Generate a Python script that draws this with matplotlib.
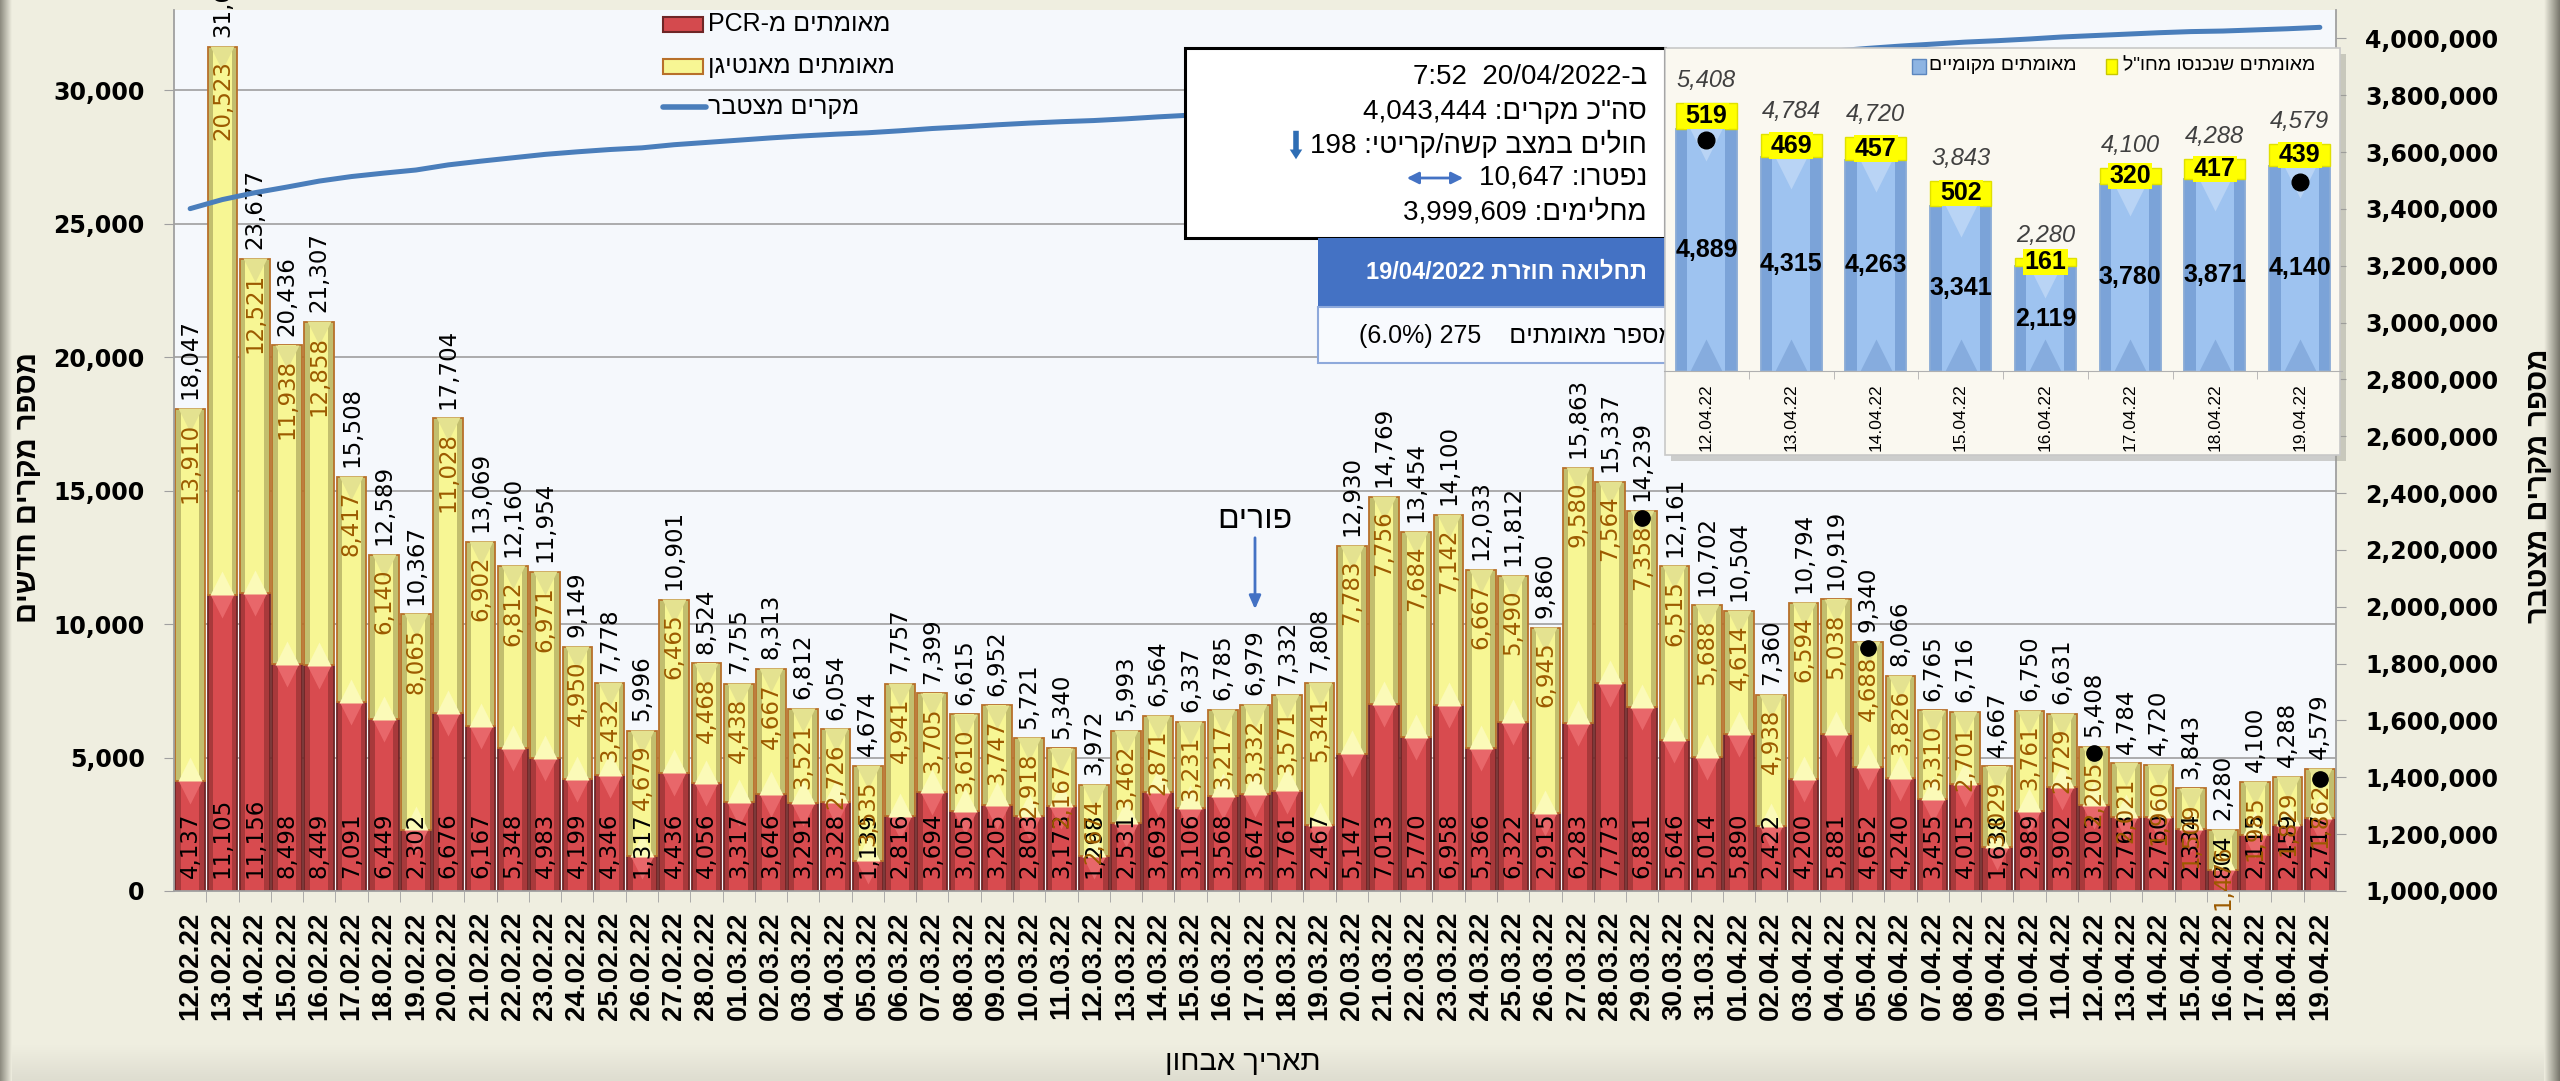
import numpy as np
import matplotlib
matplotlib.use('Agg')
import matplotlib.pyplot as plt
from matplotlib.patches import Rectangle
from matplotlib import font_manager
from matplotlib.transforms import offset_copy

# ---- data ----
dates = ['12.02.22', '13.02.22', '14.02.22', '15.02.22', '16.02.22', '17.02.22', '18.02.22',
         '19.02.22', '20.02.22', '21.02.22', '22.02.22', '23.02.22', '24.02.22', '25.02.22',
         '26.02.22', '27.02.22', '28.02.22',
         '01.03.22', '02.03.22', '03.03.22', '04.03.22', '05.03.22', '06.03.22', '07.03.22',
         '08.03.22', '09.03.22', '10.03.22', '11.03.22', '12.03.22', '13.03.22', '14.03.22',
         '15.03.22', '16.03.22', '17.03.22', '18.03.22', '19.03.22', '20.03.22', '21.03.22',
         '22.03.22', '23.03.22', '24.03.22', '25.03.22', '26.03.22', '27.03.22', '28.03.22',
         '29.03.22', '30.03.22', '31.03.22',
         '01.04.22', '02.04.22', '03.04.22', '04.04.22', '05.04.22', '06.04.22', '07.04.22',
         '08.04.22', '09.04.22', '10.04.22', '11.04.22', '12.04.22', '13.04.22', '14.04.22',
         '15.04.22', '16.04.22', '17.04.22', '18.04.22', '19.04.22']

pcr = [4137, 11105, 11156, 8498, 8449, 7091, 6449, 2302, 6676, 6167, 5348, 4983, 4199, 4346, 1317, 4436, 4056,
       3317, 3646, 3291, 3328, 1139, 2816, 3694, 3005, 3205, 2803, 3173, 1298, 2531, 3693, 3106, 3568, 3647,
       3761, 2467, 5147, 7013, 5770, 6958, 5366, 6322, 2915, 6283, 7773, 6881, 5646, 5014,
       5890, 2422, 4200, 5881, 4652, 4240, 3455, 4015, 1638, 2989, 3902, 3203, 2763, 2760, 2334, 804, 2115, 2459, 2717]

antigen = [13910, 20523, 12521, 11938, 12858, 8417, 6140, 8065, 11028, 6902, 6812, 6971, 4950, 3432, 4679, 6465, 4468,
           4438, 4667, 3521, 2726, 3535, 4941, 3705, 3610, 3747, 2918, 2167, 2674, 3462, 2871, 3231, 3217, 3332,
           3571, 5341, 7783, 7756, 7684, 7142, 6667, 5490, 6945, 9580, 7564, 7358, 6515, 5688,
           4614, 4938, 6594, 5038, 4688, 3826, 3310, 2701, 3029, 3761, 2729, 2205, 2021, 1960, 1509, 1476, 1985, 1829, 1862]

totals = [18047, 31628, 23677, 20436, 21307, 15508, 12589, 10367, 17704, 13069, 12160, 11954, 9149, 7778, 5996, 10901, 8524,
          7755, 8313, 6812, 6054, 4674, 7757, 7399, 6615, 6952, 5721, 5340, 3972, 5993, 6564, 6337, 6785, 6979,
          7332, 7808, 12930, 14769, 13454, 14100, 12033, 11812, 9860, 15863, 15337, 14239, 12161, 10702,
          10504, 7360, 10794, 10919, 9340, 8066, 6765, 6716, 4667, 6750, 6631, 5408, 4784, 4720, 3843, 2280, 4100, 4288, 4579]

# cumulative cases, thousands
cumulative = [3401, 3433, 3457, 3477, 3498, 3514, 3526, 3537, 3555, 3568, 3580, 3592, 3601, 3609, 3615, 3626, 3634,
              3642, 3650, 3657, 3663, 3668, 3675, 3683, 3689, 3696, 3702, 3707, 3711, 3717, 3724, 3730, 3737, 3744,
              3751, 3759, 3772, 3787, 3800, 3814, 3827, 3838, 3848, 3864, 3879, 3894, 3906, 3916,
              3927, 3934, 3945, 3956, 3965, 3973, 3980, 3987, 3992, 3998, 4005, 4010, 4015, 4020, 4024, 4026, 4030, 4034, 4039]

dot_dates = ['29.03.22', '05.04.22', '12.04.22', '19.04.22']
dot_vals = [13970, 9100, 5170, 4195]
purim_date = '17.03.22'

inset_dates = ['12.04.22', '13.04.22', '14.04.22', '15.04.22', '16.04.22', '17.04.22', '18.04.22', '19.04.22']
inset_local = [4889, 4315, 4263, 3341, 2119, 3780, 3871, 4140]
inset_abroad = [519, 469, 457, 502, 161, 320, 417, 439]
inset_totals = [5408, 4784, 4720, 3843, 2280, 4100, 4288, 4579]
inset_dot_dates = ['12.04.22', '19.04.22']
inset_dot_vals = [4660, 3820]

# ---- fonts ----
names = {f.name for f in font_manager.fontManager.ttflist}
HEB = ['Liberation Sans', 'DejaVu Sans']
NARROW = ['Liberation Sans Narrow', 'DejaVu Sans'] if 'Liberation Sans Narrow' in names else HEB
NUM = 'DejaVu Sans'

W, H = 2560, 1081
BEIGE = '#EFEEE0'
fig = plt.figure(figsize=(W / 100, H / 100), dpi=100, facecolor=BEIGE)


def grad(ax, x0, x1, y0, y1, c0, c1, vertical=False):
    t = np.linspace(0, 1, 40)[:, None]
    cols = (1 - t) * np.array(c0) / 255 + t * np.array(c1) / 255
    img = cols[:, None, :] if vertical else cols[None, :, :]
    ax.imshow(img, extent=[x0, x1, y1, y0], aspect='auto', interpolation='bilinear', origin='upper')


# background shadows of the outer frame
bg = fig.add_axes([0, 0, 1, 1], zorder=-5)
bg.set_xlim(0, W)
bg.set_ylim(H, 0)
bg.axis('off')
grad(bg, 0, W, 1045, H, (239, 238, 224), (222, 221, 208), vertical=True)
grad(bg, 0, 12, 0, H, (140, 138, 126), (239, 238, 224))
grad(bg, 2544, W, 0, H, (239, 238, 224), (120, 118, 108))

# ---- main axes ----
ax = fig.add_axes([174 / W, 1 - 891 / H, 2162 / W, 881 / H])
ax.set_facecolor('#F5F8FC')
x = np.arange(len(dates))
bw = 0.92


def bevel_bar(a, xs, h, bottom, side, mid, edge, width):
    a.bar(xs, h, width, bottom=bottom, color=side, edgecolor=edge, linewidth=1.3, zorder=2)
    a.bar(xs, h, width * 0.62, bottom=bottom, color=mid, linewidth=0, zorder=2.1)


bevel_bar(ax, x, pcr, 0, '#A8393B', '#D84B4F', '#6E2626', bw)
bevel_bar(ax, x, antigen, pcr, '#C2BE6E', '#F7F694', '#B8702A', bw)

# bevel triangles at the segment joints
down = offset_copy(ax.transData, fig=fig, y=-8, units='points')
up = offset_copy(ax.transData, fig=fig, y=8, units='points')
ax.plot(x, pcr, 'v', ms=17, color='#E8676A', mec='none', transform=down, zorder=2.2)
ax.plot(x, pcr, '^', ms=17, color='#FBFAB8', mec='none', transform=up, zorder=2.2)
ax.plot(x, totals, 'v', ms=17, color='#E4E290', mec='none', transform=down, zorder=2.2)

for i in range(len(dates)):
    ax.annotate(f'{pcr[i]:,}', (x[i], 0), xytext=(0, 9), textcoords='offset points',
                rotation=90, ha='center', va='bottom', fontsize=16.5, family=NUM, color='black', zorder=4)
    ax.annotate(f'{antigen[i]:,}', (x[i], totals[i]), xytext=(0, -10), textcoords='offset points',
                rotation=90, ha='center', va='top', fontsize=16.5, family=NUM, color='#9C5A00', zorder=4)
    ax.annotate(f'{totals[i]:,}', (x[i], totals[i]), xytext=(0, 7), textcoords='offset points',
                rotation=90, ha='center', va='bottom', fontsize=16.5, family=NUM, color='black', zorder=4)

ax.plot([dates.index(d) for d in dot_dates], dot_vals, 'o', color='black', ms=11, zorder=5)

ax.set_xlim(-0.5, len(dates) - 0.5)
ax.set_ylim(0, 33000)
ax.set_yticks(range(0, 30001, 5000))
ax.set_yticklabels([f'{v:,}' for v in range(0, 30001, 5000)], family=NUM, fontweight='bold', fontsize=17)
ax.yaxis.grid(True, color='#A6A6A6', lw=1.3)
ax.set_axisbelow(True)
ax.set_xticks(x)
ax.set_xticklabels(dates, rotation=90, fontsize=20, fontweight='bold', family=HEB)
ax.set_xticks(x[:-1] + 0.5, minor=True)
ax.tick_params(axis='x', which='major', length=0, pad=15)
ax.tick_params(axis='x', which='minor', length=8, color='#A0A0A0')
ax.tick_params(axis='y', length=7, color='#A0A0A0', pad=14)
for s in ['top', 'right']:
    ax.spines[s].set_visible(False)
for s in ['left', 'bottom']:
    ax.spines[s].set_color('#A0A0A0')
    ax.spines[s].set_linewidth(1.3)

# cumulative line on right axis
ax2 = ax.twinx()
ax2.plot(x, np.array(cumulative) * 1000, color='#4A7EBB', lw=3.6, solid_capstyle='round')
ax2.set_ylim(1_000_000, 4_100_000)
rt = list(range(1_000_000, 4_000_001, 200_000))
ax2.set_yticks(rt)
ax2.set_yticklabels([f'{v:,}' for v in rt], family=NUM, fontweight='bold', fontsize=17)
ax2.tick_params(axis='y', length=7, color='#A0A0A0', pad=14)
for s in ['top', 'left', 'bottom']:
    ax2.spines[s].set_visible(False)
ax2.spines['right'].set_color('#A0A0A0')
ax2.spines['right'].set_linewidth(1.3)

# axis titles (hebrew in visual order)
fig.text(28 / W, 1 - 488 / H, 'םישדח םירקמ רפסמ', rotation=90, ha='center', va='center',
         fontsize=21, fontweight='bold', family=HEB)
fig.text(2539 / W, 1 - 486 / H, 'רבטצמ םירקמ רפסמ', rotation=90, ha='center', va='center',
         fontsize=21, fontweight='bold', family=HEB)
fig.text(1243 / W, 1 - 1062 / H, 'ןוחבא ךיראת', ha='center', va='center', fontsize=21, family=HEB)

# purim marker
pi = dates.index(purim_date)
ax.annotate('', xy=(pi, H - 612), xycoords=('data', 'figure pixels'),
            xytext=(pi, H - 535), textcoords=('data', 'figure pixels'),
            arrowprops=dict(arrowstyle='-|>,head_width=0.35,head_length=0.8', color='#4472C4', lw=2), zorder=6)
ax.annotate('םירופ', xy=(pi, H - 520), xycoords=('data', 'figure pixels'), ha='center', va='center',
            fontsize=23, family=HEB, annotation_clip=False)

# ---- overlay: legend, info boxes ----
ov = fig.add_axes([0, 0, 1, 1])
ov.set_xlim(0, W)
ov.set_ylim(H, 0)
ov.axis('off')

ov.add_patch(Rectangle((663, 17), 40, 15, fc='#D44A4E', ec='#6E2626', lw=1.5))
ov.add_patch(Rectangle((663, 59), 40, 15, fc='#F7F694', ec='#B8702A', lw=1.5))
ov.plot([663, 706], [107, 107], color='#4A7EBB', lw=4, solid_capstyle='round')
ov.text(708, 24, 'PCR-מ םיתמואמ', ha='left', va='center', fontsize=18, family=HEB)
ov.text(708, 66, 'ןגיטנאמ םיתמואמ', ha='left', va='center', fontsize=18, family=HEB)
ov.text(708, 107, 'רבטצמ םירקמ', ha='left', va='center', fontsize=18, family=HEB)

# info box
ov.add_patch(Rectangle((1185, 48), 480, 190, fc='white', ec='black', lw=2.2, zorder=3))
info = ['7:52  20/04/2022-ב', '4,043,444 :םירקמ כ"הס', '198 :יטירק/השק בצמב םילוח',
        '10,647 :ורטפנ', '3,999,609 :םימילחמ']
for yy, t in zip([77, 112, 145, 178, 212], info):
    ov.text(1647, yy, t, ha='right', va='center', fontsize=20, family=HEB, zorder=4)
ov.annotate('', xy=(1296, 162), xytext=(1296, 128),
            arrowprops=dict(arrowstyle='simple,head_width=0.9,head_length=0.7,tail_width=0.4',
                            color='#2E6DB4', lw=0), zorder=4)
ov.annotate('', xy=(1404, 178), xytext=(1466, 178),
            arrowprops=dict(arrowstyle='<|-|>,head_width=0.35,head_length=0.7', color='#4472C4', lw=2), zorder=4)

# re-infection box
ov.add_patch(Rectangle((1318, 238), 347, 69, fc='#4472C4', ec='none', zorder=3))
ov.text(1647, 272, '19/04/2022 תרזוח האולחת', ha='right', va='center', color='white',
        fontsize=17, fontweight='bold', family=HEB, zorder=4)
ov.add_patch(Rectangle((1318, 307), 370, 56, fc='#F8FAFE', ec='#8EA9DB', lw=1.5, zorder=3))
ov.text(1676, 336, '(6.0%) 275    םיתמואמ רפסמ', ha='right', va='center', fontsize=18, family=HEB, zorder=4)

# inset frame
ov.add_patch(Rectangle((1671, 54), 675, 407, fc='#9A9A92', ec='none', alpha=0.45, zorder=6))
ov.add_patch(Rectangle((1665, 48), 675, 407, fc='#FAF8F0', ec='#C8C8C8', lw=1.2, zorder=6))
ov.add_patch(Rectangle((1912, 59), 14, 15, fc='#8DB4E2', ec='#5B86BE', lw=1, zorder=7))
ov.text(1929, 66, 'םיימוקמ םיתמואמ', ha='left', va='center', fontsize=14, family=NARROW, zorder=7)
ov.add_patch(Rectangle((2106, 59), 11, 15, fc='#FFFF00', ec='#C8C800', lw=1, zorder=7))
ov.text(2123, 66, 'ל"וחמ וסנכנש םיתמואמ', ha='left', va='center', fontsize=14, family=NARROW, zorder=7)

# ---- inset chart ----
ins = fig.add_axes([1664 / W, 1 - 371 / H, 678 / W, 316 / H])
ins.patch.set_visible(False)
xi = np.arange(len(inset_dates))
bevel_bar(ins, xi, inset_local, 0, '#7BA3D8', '#9EC3F0', '#8AABD6', 0.72)
ins_down = offset_copy(ins.transData, fig=fig, y=-10, units='points')
ins.plot(xi, inset_local, 'v', ms=26, color='#B9D4F5', mec='none', transform=ins_down, zorder=2.2)
ins.plot(xi, np.zeros(len(xi)), '^', ms=26, color='#86ACDE', mec='none',
         transform=offset_copy(ins.transData, fig=fig, y=10, units='points'), zorder=2.2)
ins.bar(xi, inset_abroad, 0.72, bottom=inset_local, color='#FFFF00', edgecolor='#E0E000', lw=1, zorder=2)
for i in range(len(inset_dates)):
    ins.text(xi[i], inset_local[i] / 2, f'{inset_local[i]:,}', ha='center', va='center',
             fontsize=18, fontweight='bold', family=NARROW, zorder=4)
    ins.text(xi[i], inset_local[i] + inset_abroad[i] / 2, f'{inset_abroad[i]:,}', ha='center', va='center',
             fontsize=18, fontweight='bold', family=NARROW, zorder=4,
             bbox=dict(boxstyle='square,pad=0.05', fc='#FFFF00', ec='none'))
    ins.annotate(f'{inset_totals[i]:,}', (xi[i], inset_totals[i]), xytext=(0, 16), textcoords='offset points',
                 ha='center', va='center', fontsize=17, fontstyle='italic', family=NARROW,
                 color='#404040', zorder=4)
ins.plot([inset_dates.index(d) for d in inset_dot_dates], inset_dot_vals, 'o', color='black', ms=12, zorder=5)
ins.set_xlim(-0.5, len(inset_dates) - 0.5)
ins.set_ylim(0, 6380)
ins.set_yticks([])
ins.set_xticks(xi)
ins.set_xticklabels(inset_dates, rotation=90, fontsize=12.5, family=NARROW)
ins.set_xticks(xi[:-1] + 0.5, minor=True)
ins.tick_params(axis='x', which='major', length=0, pad=9)
ins.tick_params(axis='x', which='minor', length=6, color='#B0B0B0')
for s in ['top', 'left', 'right']:
    ins.spines[s].set_visible(False)
ins.spines['bottom'].set_color('#B0B0B0')

fig.savefig('out.png', dpi=100, facecolor=BEIGE)
